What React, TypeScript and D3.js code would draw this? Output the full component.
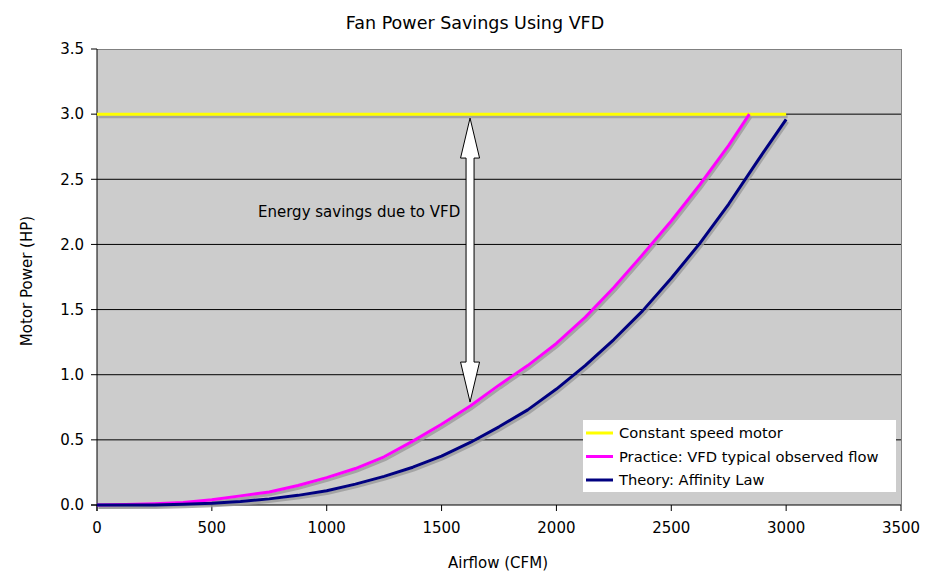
import React from "react";
import * as d3 from "d3";

const xTicks = [0, 500, 1000, 1500, 2000, 2500, 3000, 3500];
const yTicks = [0, 0.5, 1.0, 1.5, 2.0, 2.5, 3.0, 3.5];

const constantFlow = [0, 3000];
const constantPower = [3.0, 3.0];

const practiceFlow = [0, 125, 250, 375, 500, 625, 750, 875, 1000, 1125, 1250, 1375, 1500, 1625, 1750, 1875, 2000, 2125, 2250, 2375, 2500, 2625, 2750, 2840];
const practicePower = [0, 0.003, 0.01, 0.02, 0.04, 0.07, 0.1, 0.15, 0.21, 0.28, 0.37, 0.49, 0.62, 0.76, 0.92, 1.07, 1.24, 1.44, 1.67, 1.92, 2.18, 2.46, 2.76, 3.0];

const theoryFlow = [0, 125, 250, 375, 500, 625, 750, 875, 1000, 1125, 1250, 1375, 1500, 1625, 1750, 1875, 2000, 2125, 2250, 2375, 2500, 2625, 2750, 2875, 3000];
const theoryPower = [0, 0, 0, 0.006, 0.014, 0.027, 0.047, 0.074, 0.11, 0.16, 0.22, 0.29, 0.375, 0.48, 0.6, 0.73, 0.89, 1.07, 1.27, 1.49, 1.74, 2.01, 2.31, 2.64, 2.96];

const seriesNames = ["Constant speed motor", "Practice: VFD typical observed flow", "Theory: Affinity Law"];
const seriesColors = ["#ffff00", "#ff00ff", "#000080"];

const arrowFlow = 1624;
const arrowTop = 2.97;
const arrowBottom = 0.79;

const FONT = "'DejaVu Sans', Verdana, sans-serif";

export default function App() {
  const W = 952, H = 587;
  const left = 97, right = 901, top = 49, bottom = 505;
  const x = d3.scaleLinear().domain([0, 3500]).range([left, right]);
  const y = d3.scaleLinear().domain([0, 3.5]).range([bottom, top]);

  const line = d3.line<[number, number]>().x(d => x(d[0])).y(d => y(d[1]));
  const series = [
    constantFlow.map((f, i) => [f, constantPower[i]] as [number, number]),
    practiceFlow.map((f, i) => [f, practicePower[i]] as [number, number]),
    theoryFlow.map((f, i) => [f, theoryPower[i]] as [number, number]),
  ];

  const ax = x(arrowFlow);
  const at = y(arrowTop);
  const ab = y(arrowBottom);
  const hw = 9.5, sw = 4, hl = 40;
  const arrowPath = [
    [ax, at], [ax + hw, at + hl], [ax + sw, at + hl], [ax + sw, ab - hl], [ax + hw, ab - hl],
    [ax, ab], [ax - hw, ab - hl], [ax - sw, ab - hl], [ax - sw, at + hl], [ax - hw, at + hl],
  ].map(p => p.join(",")).join(" ");

  return (
    <svg width={W} height={H} style={{ position: "absolute", left: 0, top: 0 }} fontFamily={FONT}>
      <rect x={0} y={0} width={W} height={H} fill="#ffffff" />
      <rect x={left} y={top} width={right - left} height={bottom - top} fill="#cccccc" />
      {yTicks.slice(1, -1).map(t => (
        <line key={t} x1={left} x2={right} y1={y(t)} y2={y(t)} stroke="#000" strokeWidth={1} />
      ))}
      <line x1={left} x2={right} y1={top + 0.5} y2={top + 0.5} stroke="#808080" />
      <line x1={right + 0.5} x2={right + 0.5} y1={top} y2={bottom} stroke="#808080" />
      <line x1={left} x2={left} y1={top} y2={bottom + 6} stroke="#000" />
      <line x1={left - 6} x2={right} y1={bottom} y2={bottom} stroke="#000" />
      {yTicks.map(t => (
        <g key={t}>
          <line x1={left - 6} x2={left} y1={y(t)} y2={y(t)} stroke="#000" />
          <text x={84} y={y(t)} dy="0.35em" textAnchor="end" fontSize={15}>{t.toFixed(1)}</text>
        </g>
      ))}
      {xTicks.map(t => (
        <g key={t}>
          <line x1={x(t)} x2={x(t)} y1={bottom} y2={bottom + 6} stroke="#000" />
          <text x={x(t)} y={528} dy="0.35em" textAnchor="middle" fontSize={15}>{t}</text>
        </g>
      ))}
      {series.map((s, i) => (
        <path key={"sh" + i} d={line(s) || ""} fill="none" stroke="#9a9a9a" strokeWidth={3} transform="translate(1.5,2.5)" opacity={0.8} />
      ))}
      {series.map((s, i) => (
        <path key={"s" + i} d={line(s) || ""} fill="none" stroke={seriesColors[i]} strokeWidth={3} strokeLinejoin="round" />
      ))}
      <polygon points={arrowPath} fill="#ffffff" stroke="#000" strokeWidth={1} />
      <text x={258} y={212} dy="0.35em" fontSize={15}>Energy savings due to VFD</text>
      <g>
        <rect x={583} y={420} width={313} height={72} fill="#ffffff" />
        {seriesNames.map((n, i) => (
          <g key={n}>
            <line x1={586} x2={613} y1={433 + i * 23.5} y2={433 + i * 23.5} stroke={seriesColors[i]} strokeWidth={3} />
            <text x={619} y={433 + i * 23.5} dy="0.35em" fontSize={14.7}>{n}</text>
          </g>
        ))}
      </g>
      <text x={475} y={23} dy="0.35em" textAnchor="middle" fontSize={17.5}>Fan Power Savings Using VFD</text>
      <text x={498} y={563} dy="0.35em" textAnchor="middle" fontSize={15}>Airflow (CFM)</text>
      <text transform={`translate(27,${281}) rotate(-90)`} dy="0.35em" textAnchor="middle" fontSize={15}>Motor Power (HP)</text>
    </svg>
  );
}
